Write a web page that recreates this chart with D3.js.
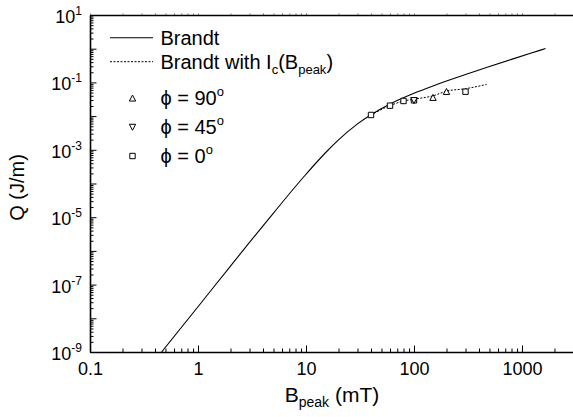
<!DOCTYPE html>
<html><head><meta charset="utf-8">
<script src="https://cdn.jsdelivr.net/npm/d3@7"></script>
<style>body{margin:0;background:#fff} svg{display:block}</style>
</head><body><svg id="c" width="573" height="417"></svg>
<script>
// ---- data ----
const xTickValues = [0.1, 1, 10, 100, 1000];
const xTickLabels = ["0.1", "1", "10", "100", "1000"];
const yTickExponents = [1, -1, -3, -5, -7, -9];

const brandtB = [0.46, 1, 2, 5, 10, 15, 20, 30, 40, 60, 100, 150, 200, 300, 500, 800, 1200, 1650];
const brandtQ = [1.0e-9, 2.2e-8, 3.55e-7, 1.33e-5, 1.88e-4, 7.9e-4, 1.97e-3, 5.9e-3, 1.1e-2, 2.29e-2, 4.76e-2, 7.86e-2, 0.1097, 0.1717, 0.2957, 0.4817, 0.7297, 1.009];

const brandtIcB = [40, 60, 80, 100, 150, 200, 300, 470];
const brandtIcQ = [0.0108, 0.0205, 0.0280, 0.0318, 0.0400, 0.0550, 0.0650, 0.0870];

const phi90B = [150, 200];
const phi90Q = [0.0352, 0.053];
const phi45B = [100];
const phi45Q = [0.0294];
const phi0B = [40, 60, 80, 100, 300];
const phi0Q = [0.0108, 0.0204, 0.0281, 0.0294, 0.053];

const FONT = "Arial, 'Liberation Sans', Helvetica, sans-serif";

// ---- scales ----
const svg = d3.select("#c");
const x = d3.scaleLog().domain([0.1, 3000]).range([90, 573.5]);
const y = d3.scaleLog().domain([1e-9, 10]).range([352, 15]);

// tick positions
const xMinor = [];
for (let e = -1; e <= 3; e++) for (let m = 2; m <= 9; m++) { const v = m * Math.pow(10, e); if (v < 3000) xMinor.push(v); }
const yMajor = [];
const yMinor = [];
for (let e = -9; e <= 1; e++) { yMajor.push(Math.pow(10, e)); if (e < 1) for (let m = 2; m <= 9; m++) yMinor.push(m * Math.pow(10, e)); }

// ---- axes ----
function styleAxis(g, sw) {
  g.select(".domain").attr("stroke", "#000").attr("stroke-width", sw);
  g.selectAll(".tick line").attr("stroke", "#000").attr("stroke-width", 1);
}
// bottom minor
const gxm = svg.append("g").attr("transform", "translate(0,352)")
  .call(d3.axisBottom(x).tickValues(xMinor).tickFormat("").tickSizeInner(-3.5).tickSizeOuter(0));
gxm.select(".domain").remove();
gxm.selectAll(".tick line").attr("stroke", "#000");
// bottom major
const gx = svg.append("g").attr("transform", "translate(0,352)")
  .call(d3.axisBottom(x).tickValues(xTickValues).tickFormat((d, i) => xTickLabels[i]).tickSizeInner(-6.5).tickSizeOuter(0).tickPadding(10.5));
styleAxis(gx, 1.6);
gx.attr("font-size", 18).attr("font-family", FONT);
gx.selectAll("text").attr("fill", "#000");

// top axis
const gt = svg.append("g").attr("transform", "translate(0,15)")
  .call(d3.axisTop(x).tickValues(xTickValues.concat(xMinor)).tickFormat("").tickSizeInner(1.5).tickSizeOuter(0));
styleAxis(gt, 1.6);
gt.selectAll(".tick line").attr("stroke", "#666");

// left minor
const gym = svg.append("g").attr("transform", "translate(90,0)")
  .call(d3.axisLeft(y).tickValues(yMinor).tickFormat("").tickSizeInner(-3.5).tickSizeOuter(0));
gym.select(".domain").remove();
gym.selectAll(".tick line").attr("stroke", "#000");
// left major
const gy = svg.append("g").attr("transform", "translate(90,0)")
  .call(d3.axisLeft(y).tickValues(yMajor).tickFormat("").tickSizeInner(-6.5).tickSizeOuter(0));
styleAxis(gy, 1.6);

// y tick labels with superscripts
yTickExponents.forEach(e => {
  const t = svg.append("text").attr("x", 82).attr("y", y(Math.pow(10, e)) + 8)
    .attr("text-anchor", "end").attr("font-family", FONT).attr("font-size", 18).attr("fill", "#000");
  t.append("tspan").text("10");
  t.append("tspan").attr("dy", -8).attr("font-size", 12).text(e < 0 ? "-" + (-e) : String(e));
});

// axis titles
const xt = svg.append("text").attr("x", 332).attr("y", 401.5).attr("text-anchor", "middle")
  .attr("font-family", FONT).attr("font-size", 21).attr("fill", "#000");
xt.append("tspan").text("B");
xt.append("tspan").attr("dy", 5).attr("font-size", 14).text("peak");
xt.append("tspan").attr("dy", -5).text(" (mT)");

svg.append("text").attr("transform", "translate(23.5,187.5) rotate(-90)").attr("text-anchor", "middle")
  .attr("font-family", FONT).attr("font-size", 20).attr("fill", "#000").text("Q (J/m)");

// ---- curves ----
svg.append("clipPath").attr("id", "clip").append("rect")
  .attr("x", 90).attr("y", 15).attr("width", 483.5).attr("height", 337);
const line = d3.line().x(d => x(d[0])).y(d => y(d[1])).curve(d3.curveMonotoneX);

svg.append("path").attr("clip-path", "url(#clip)")
  .attr("d", line(brandtB.map((b, i) => [b, brandtQ[i]])))
  .attr("fill", "none").attr("stroke", "#000").attr("stroke-width", 1.1);

svg.append("path").attr("clip-path", "url(#clip)")
  .attr("d", line(brandtIcB.map((b, i) => [b, brandtIcQ[i]])))
  .attr("fill", "none").attr("stroke", "#000").attr("stroke-width", 1).attr("stroke-dasharray", "2,1.5");

// ---- markers ----
function tri(cx, cy, up) {
  const h = 5.5, w = 3.2;
  return up ? `M${cx},${cy - h / 2 - 0.5}L${cx + w},${cy + h / 2}L${cx - w},${cy + h / 2}Z`
            : `M${cx},${cy + h / 2 + 0.5}L${cx + w},${cy - h / 2}L${cx - w},${cy - h / 2}Z`;
}
function sq(cx, cy) { const s = 2.7; return `M${cx - s},${cy - s}h${2 * s}v${2 * s}h${-2 * s}Z`; }
function drawMarker(p) {
  svg.append("path").attr("d", p).attr("fill", "#fff").attr("stroke", "#000").attr("stroke-width", 1);
}
phi0B.forEach((b, i) => drawMarker(sq(x(b), y(phi0Q[i]))));
phi45B.forEach((b, i) => drawMarker(tri(x(b), y(phi45Q[i]), false)));
phi90B.forEach((b, i) => drawMarker(tri(x(b), y(phi90Q[i]), true)));

// ---- legend ----
const lg = svg.append("g").attr("font-family", FONT).attr("fill", "#000");
lg.append("line").attr("x1", 110).attr("x2", 153).attr("y1", 37.7).attr("y2", 37.7).attr("stroke", "#000").attr("stroke-width", 1.1);
lg.append("text").attr("x", 160.5).attr("y", 44.5).attr("font-size", 20).text("Brandt");
lg.append("line").attr("x1", 110).attr("x2", 153).attr("y1", 61.7).attr("y2", 61.7).attr("stroke", "#000").attr("stroke-width", 1).attr("stroke-dasharray", "2,1.5");
const t2 = lg.append("text").attr("x", 160.5).attr("y", 69).attr("font-size", 20);
t2.append("tspan").text("Brandt with I");
t2.append("tspan").attr("dy", 5).attr("font-size", 13).text("c");
t2.append("tspan").attr("dy", -5).text("(B");
t2.append("tspan").attr("dy", 5).attr("font-size", 13).text("peak");
t2.append("tspan").attr("dy", -5).text(")");

const phiLabels = ["90", "45", "0"];
const phiY = [98.3, 127, 156];
const phiMarkers = [(cx, cy) => tri(cx, cy, true), (cx, cy) => tri(cx, cy, false), sq];
phiLabels.forEach((lab, i) => {
  lg.append("path").attr("d", phiMarkers[i](132.5, phiY[i])).attr("fill", "#fff").attr("stroke", "#000").attr("stroke-width", 1);
  const t = lg.append("text").attr("x", 160.5).attr("y", phiY[i] + 6.5).attr("font-size", 20);
  t.append("tspan").text("\u03d5 = " + lab);
  t.append("tspan").attr("dy", -9).attr("font-size", 13).text("o");
});
</script></body></html>
